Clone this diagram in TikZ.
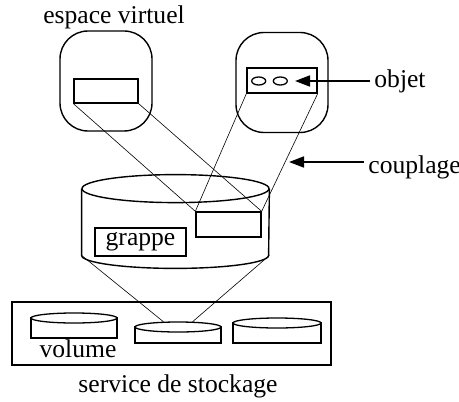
\documentclass[tikz,border=0pt]{standalone}
\usepackage{fontspec}
\setmainfont{Liberation Serif}
\usetikzlibrary{shapes.geometric,arrows.meta}
\begin{document}
\begin{tikzpicture}[x=0.5pt, y=-0.5pt,
	every node/.style={font=\fontsize{12.8}{15}\selectfont},
	espace/.style={draw, line width=0.7pt, rounded corners=14pt, minimum width=46pt, minimum height=50pt},
	boite/.style={draw, line width=0.65pt, inner sep=0pt},
	trou/.style={draw, ellipse, line width=0.65pt, minimum width=7pt, minimum height=4pt, inner sep=0pt},
	corps/.style={draw, line width=0.65pt, minimum width=43pt, inner sep=0pt},
	haut/.style={draw, ellipse, fill=white, line width=0.65pt, minimum width=43pt, minimum height=5pt, inner sep=0pt},
	epais/.style={line width=0.7pt},
	lien/.style={line width=0.3pt},
	fleche/.style={line width=0.85pt, -{Triangle[length=7.5pt,width=5.5pt]}},
	etiquette/.style={inner sep=2pt}]
	\useasboundingbox (0,0) rectangle (459,401);
	% espaces virtuels
	\node[espace] (ev1) at (106,81) {};
	\node[espace] (ev2) at (282,82.5) {};
	\node[boite, minimum width=32pt, minimum height=12pt] (r1) at (106,91) {};
	\node[boite, minimum width=35pt, minimum height=12.5pt] (r2) at (282,80.5) {};
	\node[trou] (o1) at (258.7,81) {};
	\node[trou] (o2) at (280.3,81) {};
	\node[etiquette, anchor=base] (titre) at (114,24) {espace virtuel};
	% grappe
	\node[minimum width=93.5pt, minimum height=33pt, inner sep=0pt] (cyl) at (175.5,222) {};
	\draw[epais] (cyl.north) ellipse [x radius=46.75pt, y radius=7pt];
	\draw[epais] (cyl.north west) -- (cyl.south west)
		arc [start angle=180, end angle=360, x radius=46.75pt, y radius=6.5pt] -- (cyl.north east);
	\node[boite, minimum width=32.5pt, minimum height=12.5pt] (rc) at (228.5,224.5) {};
	\node[boite, minimum width=45.5pt, minimum height=14pt] (grappe) at (140.5,242) {grappe};
	% service de stockage
	\node[boite, minimum width=159.5pt, minimum height=31.5pt] (stock) at (171.5,333.5) {};
	\node[corps, minimum height=10pt] (c1) at (74,328) {};
	\node[haut] (d1) at (74,318) {};
	\node[corps, minimum height=8pt] (c2) at (178,335) {};
	\node[haut] (d2) at (178,327) {};
	\node[corps, minimum width=44pt, minimum height=10pt] (c3) at (277,333) {};
	\node[haut, minimum width=44pt] (d3) at (277,323) {};
	\node[etiquette, anchor=base] (volume) at (78,357) {volume};
	\node[etiquette, anchor=base] (service) at (178,392) {service de stockage};
	% couplages
	\draw[lien] (r1.south west) -- (rc.north west);
	\draw[lien] (r1.south east) -- (rc.north east);
	\draw[lien] (r2.south west) -- (rc.north west);
	\draw[lien] (r2.south east) -- (rc.north east);
	\draw[lien] (cyl.south west) -- (d2.160);
	\draw[lien] (cyl.south east) -- (d2.20);
	% fleches
	\coordinate (pobj) at (295,81);
	\coordinate (pcoup) at (289,162);
	\node[etiquette, anchor=base west] (objet) at (370,88) {objet};
	\node[etiquette, anchor=base west] (couplage) at (364,173) {couplage};
	\draw[fleche] (objet.west |- pobj) -- (pobj);
	\draw[fleche] (couplage.west |- pcoup) -- (pcoup);
\end{tikzpicture}
\end{document}
